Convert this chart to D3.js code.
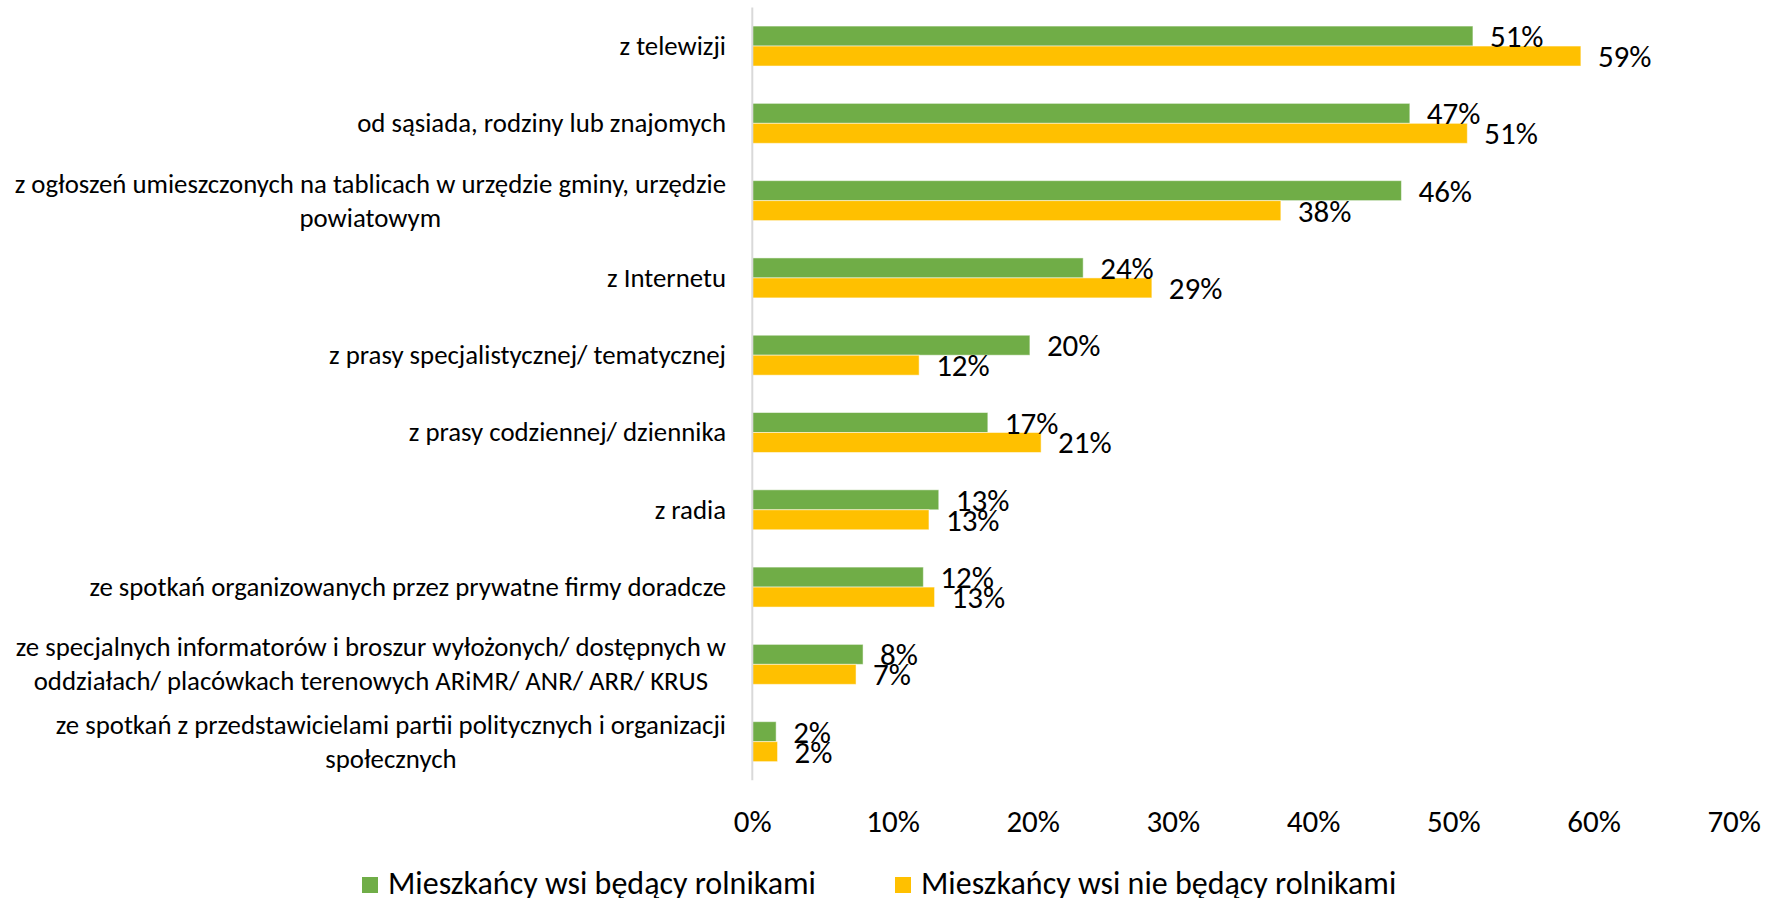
<!DOCTYPE html>
<html>
<head>
<meta charset="utf-8">
<script src="https://cdn.jsdelivr.net/npm/d3@7"></script>
<style>
  html, body { margin: 0; padding: 0; background: #fff; }
  svg { display: block; }
  text { font-family: Carlito, Calibri, Lato, sans-serif; fill: #000; }
</style>
</head>
<body>
<svg id="chart" width="1765" height="898"></svg>
<script>
const categories = [
  "z telewizji",
  "od sąsiada, rodziny lub znajomych",
  "z ogłoszeń umieszczonych na tablicach w urzędzie gminy, urzędzie\npowiatowym",
  "z Internetu",
  "z prasy specjalistycznej/ tematycznej",
  "z prasy codziennej/ dziennika",
  "z radia",
  "ze spotkań organizowanych przez prywatne firmy doradcze",
  "ze specjalnych informatorów i broszur wyłożonych/ dostępnych w\noddziałach/ placówkach terenowych ARiMR/ ANR/ ARR/ KRUS",
  "ze spotkań z przedstawicielami partii politycznych i organizacji\nspołecznych"
];
const seriesNames = ["Mieszkańcy wsi będący rolnikami", "Mieszkańcy wsi nie będący rolnikami"];
const farmers    = [51.4, 46.9, 46.3, 23.6, 19.8, 16.8, 13.3, 12.2, 7.9, 1.7];
const nonFarmers = [59.1, 51.0, 37.7, 28.5, 11.9, 20.6, 12.6, 13.0, 7.4, 1.8];
const tickValues = [0, 10, 20, 30, 40, 50, 60, 70];
const colors = ["#70AD47", "#FFC000"];

const svg = d3.select("#chart");
const FS = 31;      // data labels, ticks
const CAT_FS = 26.8; // category labels
const LEG_FS = 32;  // legend

const x = d3.scaleLinear().domain([0, 70]).range([752.3, 1733.7]);
const y = d3.scaleBand().domain(categories).range([7.4, 780.3]).paddingInner(0.483).paddingOuter(0.2415);
const ySub = d3.scaleBand().domain([0, 1]).range([0, y.bandwidth()]);

const series = [farmers, nonFarmers];

// bars
series.forEach((vals, si) => {
  svg.append("g").selectAll("rect")
    .data(categories)
    .join("rect")
    .attr("x", x(0))
    .attr("y", d => y(d) + ySub(si))
    .attr("width", (d, i) => x(vals[i]) - x(0))
    .attr("height", ySub.bandwidth())
    .attr("fill", colors[si])
    .attr("stroke", "#ffffff")
    .attr("stroke-opacity", 0.5)
    .attr("stroke-width", 1);
});

// vertical axis line
svg.append("line")
  .attr("x1", x(0)).attr("x2", x(0))
  .attr("y1", y.range()[0]).attr("y2", y.range()[1])
  .attr("stroke", "#d9d9d9").attr("stroke-width", 2);

// data labels
series.forEach((vals, si) => {
  svg.append("g").selectAll("text")
    .data(categories)
    .join("text")
    .attr("x", (d, i) => x(vals[i]) + 17)
    .attr("y", d => y(d) + ySub(si) + ySub.bandwidth() / 2 + 11)
    .attr("font-size", FS)
    .text((d, i) => Math.round(vals[i]) + "%");
});

// category labels
const lineH = 34;
const catG = svg.append("g");
categories.forEach(c => {
  const lines = c.split("\n");
  const cy = y(c) + y.bandwidth() / 2;
  const t = catG.append("text")
    .attr("font-size", CAT_FS)
    .attr("text-anchor", "middle");
  lines.forEach((ln, li) => {
    t.append("tspan")
      .attr("x", 0)
      .attr("y", cy + 9 + (li - (lines.length - 1) / 2) * lineH)
      .text(ln);
  });
  // right-align block at 726
  const w = t.node().getBBox().width;
  t.attr("transform", `translate(${726 - w / 2},0)`);
});

// x axis tick labels
const axis = d3.axisBottom(x).tickValues(tickValues).tickSize(0).tickFormat(d => d + "%");
const ax = svg.append("g").attr("transform", "translate(0,831.7)").call(axis);
ax.select(".domain").remove();
ax.selectAll("text").attr("y", 0).attr("dy", 0).attr("font-size", FS)
  .attr("font-family", null).style("fill", "#000");
ax.attr("font-family", null).attr("font-size", null);

// legend
const legX = [362, 895];
seriesNames.forEach((n, i) => {
  svg.append("rect").attr("x", legX[i]).attr("y", 877).attr("width", 16).attr("height", 16).attr("fill", colors[i]);
  svg.append("text").attr("x", legX[i] + 26).attr("y", 894).attr("font-size", LEG_FS).text(n);
});
</script>
</body>
</html>
